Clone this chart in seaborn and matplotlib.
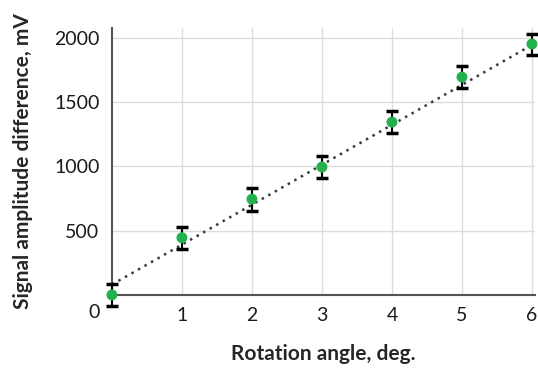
import matplotlib
matplotlib.use("Agg")
import matplotlib.pyplot as plt
import seaborn as sns
import pandas as pd

angle = [0, 1, 2, 3, 4, 5, 6]
amplitude = [0, 445, 745, 995, 1345, 1695, 1952]
amp_err = [85, 85, 90, 85, 85, 85, 82]

# linear fit drawn as dotted line
fit_angle = [0, 6]
fit_amp = [80, 1945]

x_ticks = [1, 2, 3, 4, 5, 6]
y_ticks = [0, 500, 1000, 1500, 2000]
y_ticklabels = ["", "500", "1000", "1500", "2000"]

sns.set_style("white")
plt.rcParams["font.family"] = ["Lato", "DejaVu Sans"]

df = pd.DataFrame({"angle": angle, "amplitude": amplitude})
fit_df = pd.DataFrame({"angle": fit_angle, "amplitude": fit_amp})

fig = plt.figure(figsize=(5.38, 3.70), dpi=100)
ax = fig.add_axes([0.208, 0.203, 0.786, 0.721])

ax.grid(True, color="#dcdcdc", linewidth=1.0)
ax.set_axisbelow(True)

sns.lineplot(data=fit_df, x="angle", y="amplitude", ax=ax, color="#3a3a3a",
             linestyle=(0, (1, 2)), linewidth=1.8, zorder=2)
ax.errorbar(angle, amplitude, yerr=amp_err, fmt="none", ecolor="black",
            elinewidth=1.5, capsize=4, capthick=2.5, zorder=3, clip_on=False)
sns.scatterplot(data=df, x="angle", y="amplitude", ax=ax, color="#22b14c",
                s=62, edgecolor="none", zorder=4, clip_on=False)

ax.set_xlim(0, 6.04)
ax.set_ylim(0, 2076)
ax.set_xticks(x_ticks)
ax.set_yticks(y_ticks)
ax.set_yticklabels(y_ticklabels)

for side in ["top", "right"]:
    ax.spines[side].set_visible(False)
for side in ["left", "bottom"]:
    ax.spines[side].set_color("#555555")
    ax.spines[side].set_linewidth(1.5)

ax.tick_params(axis="both", which="both", direction="out", length=5, width=1.5,
               color="#333333", labelsize=14, labelcolor="#1a1a1a", pad=4)

# corner "0" label shared by both axes
ax.text(-0.028, -0.035, "0", transform=ax.transAxes, ha="right", va="top",
        fontsize=14, color="#1a1a1a")

ax.set_xlabel("Rotation angle, deg.", fontsize=15, fontweight="bold", labelpad=14)
ax.set_ylabel("Signal amplitude difference, mV", fontsize=15, fontweight="bold", labelpad=15)

fig.savefig("out.png", dpi=100)
